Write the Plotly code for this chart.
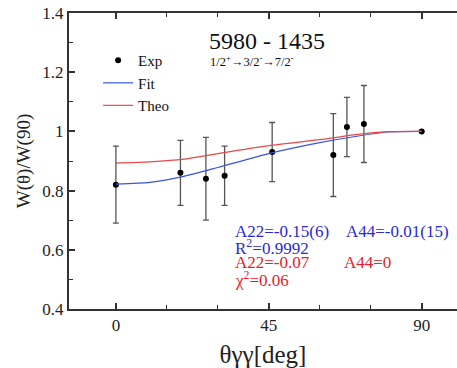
import plotly.graph_objects as go

# Measured angular correlation W(theta)/W(90)
angle_exp = [0, 19, 26.5, 32, 46, 64, 68, 73, 90]
ratio_exp = [0.82, 0.86, 0.84, 0.85, 0.93, 0.92, 1.015, 1.025, 1.0]
ratio_err = [0.13, 0.11, 0.14, 0.10, 0.10, 0.14, 0.10, 0.13, 0.0]

# Fitted and theoretical curves
angle_curve = [0, 10, 20, 30, 45, 60, 70, 80, 90]
ratio_fit = [0.822, 0.828, 0.848, 0.878, 0.925, 0.962, 0.982, 0.998, 1.0]
ratio_theo = [0.893, 0.897, 0.906, 0.925, 0.952, 0.972, 0.988, 0.999, 1.0]

SERIF = "Times New Roman, Liberation Serif, serif"
BLUE_TXT = "#2a2ad0"
RED_TXT = "#e82028"
AXIS = "#333333"

fig = go.Figure()
fig.add_trace(go.Scatter(
    x=angle_exp, y=ratio_exp, mode="markers", name="Exp",
    marker=dict(color="black", size=6),
    error_y=dict(type="data", array=ratio_err, color="#555555", thickness=1.3, width=3),
))
fig.add_trace(go.Scatter(
    x=angle_curve, y=ratio_fit, mode="lines", name="Fit",
    line=dict(color="#3a55e0", width=1.2, shape="spline", smoothing=0.6),
))
fig.add_trace(go.Scatter(
    x=angle_curve, y=ratio_theo, mode="lines", name="Theo",
    line=dict(color="#e84848", width=1.2, shape="spline", smoothing=0.6),
))

ann = [
    dict(x=44.4, y=1.306, text="5980 - 1435", font=dict(size=24, color="#111"), xanchor="center"),
    dict(x=27.1, y=1.239, text="1/2<sup>+</sup>→3/2<sup>-</sup>→7/2<sup>-</sup>",
         font=dict(size=12.5, color="#111"), xanchor="left"),
    dict(x=34.4, y=0.661, text="A22=-0.15(6)", font=dict(size=17, color=BLUE_TXT), xanchor="left"),
    dict(x=67.1, y=0.661, text="A44=-0.01(15)", font=dict(size=17, color=BLUE_TXT), xanchor="left"),
    dict(x=34.4, y=0.611, text="R<sup>2</sup>=0.9992", font=dict(size=17, color=BLUE_TXT), xanchor="left"),
    dict(x=34.4, y=0.556, text="A22=-0.07", font=dict(size=17, color=RED_TXT), xanchor="left"),
    dict(x=66.5, y=0.556, text="A44=0", font=dict(size=17, color=RED_TXT), xanchor="left"),
    dict(x=34.4, y=0.502, text="χ<sup>2</sup>=0.06", font=dict(size=17, color=RED_TXT), xanchor="left"),
]
for a in ann:
    a.update(xref="x", yref="y", showarrow=False, yanchor="middle")
    a["font"]["family"] = SERIF

fig.update_layout(
    width=457, height=368,
    margin=dict(l=69, r=0, t=13, b=59),
    paper_bgcolor="white", plot_bgcolor="white",
    font=dict(family=SERIF, color="#222", size=16),
    annotations=ann,
    legend=dict(
        x=0.075, y=0.895, xanchor="left", yanchor="top",
        font=dict(family=SERIF, size=15, color="#111"),
        bgcolor="rgba(0,0,0,0)", borderwidth=0, tracegroupgap=0,
    ),
    showlegend=True,
)
fig.update_xaxes(
    range=[-13.8, 100.4], tickvals=[0, 45, 90], ticktext=["0", "45", "90"],
    ticks="inside", ticklen=6, tickwidth=1.5, tickcolor=AXIS,
    minor=dict(tickvals=[15, 30, 60, 75], ticks="inside", ticklen=4, tickwidth=1.2, tickcolor=AXIS),
    showline=True, linecolor=AXIS, linewidth=2, mirror="ticks",
    showgrid=False, zeroline=False,
    tickfont=dict(family=SERIF, size=17, color="#222"),
    title=dict(text="θγγ[deg]", font=dict(family=SERIF, size=25, color="#222"), standoff=12),
)
fig.update_yaxes(
    range=[0.4, 1.4], tickvals=[0.4, 0.6, 0.8, 1.0, 1.2, 1.4],
    ticktext=["0.4", "0.6", "0.8", "1", "1.2", "1.4"],
    ticks="inside", ticklen=6, tickwidth=1.5, tickcolor=AXIS,
    minor=dict(tickvals=[0.5, 0.7, 0.9, 1.1, 1.3], ticks="inside", ticklen=4, tickwidth=1.2, tickcolor=AXIS),
    showline=True, linecolor=AXIS, linewidth=2,
    showgrid=False, zeroline=False,
    tickfont=dict(family=SERIF, size=17, color="#222"),
    title=dict(text="W(θ)/W(90)", font=dict(family=SERIF, size=19, color="#222"), standoff=7),
)

fig.write_html("out.html")
